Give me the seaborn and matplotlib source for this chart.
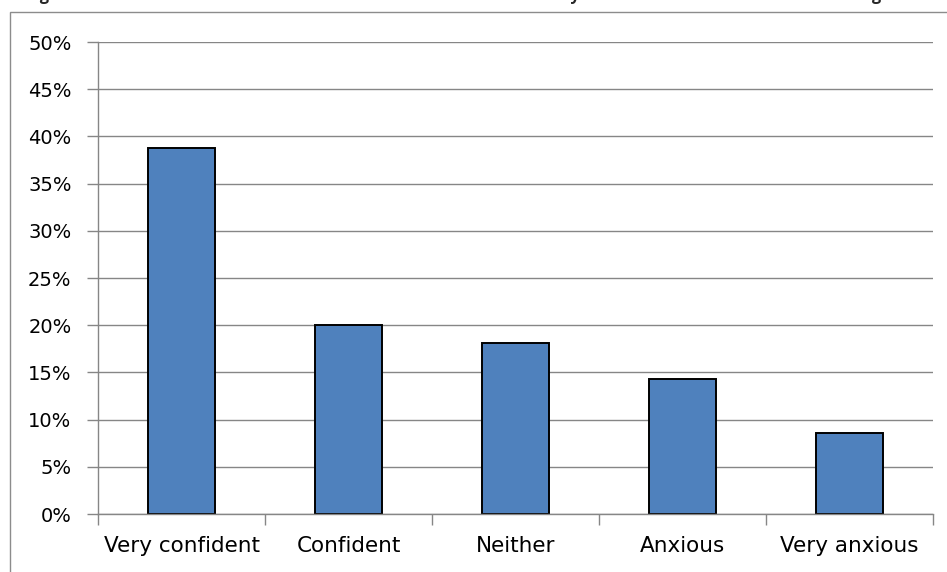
import matplotlib
matplotlib.use("Agg")
import matplotlib.pyplot as plt
import seaborn as sns
import pandas as pd
from matplotlib.ticker import PercentFormatter, MultipleLocator
from matplotlib.patches import Rectangle

# values (percent of respondents)
categories = ["Very confident", "Confident", "Neither", "Anxious", "Very anxious"]
shares = [38.8, 20.0, 18.1, 14.3, 8.6]
# the title is cut off by the top edge in the reference; only its descenders show
title_text = ("Figure 3: How confident or anxious were students about their "
              "ability to use the internet for their learning")

df = pd.DataFrame({"response": categories, "share": shares})

sns.set_theme(style="white")
plt.rcParams["font.family"] = ["DejaVu Sans"]

W, H = 947, 572
fig = plt.figure(figsize=(W / 100, H / 100), dpi=100)
ax = fig.add_axes([98 / W, 58 / H, 835 / W, 472 / H])

sns.barplot(data=df, x="response", y="share", color="#4F81BD", saturation=1,
            edgecolor="black", linewidth=1.4, width=0.4, ax=ax)

grey = "#868686"
ax.set_xlim(-0.5, len(categories) - 0.5)
ax.set_ylim(0, 50)
ax.yaxis.set_major_locator(MultipleLocator(5))
ax.yaxis.set_major_formatter(PercentFormatter(decimals=0))
ax.yaxis.grid(True, color=grey, linewidth=1)
ax.set_axisbelow(True)

# category boundary ticks like Excel
ax.set_xticks([i - 0.5 for i in range(len(categories) + 1)], minor=True)
ax.tick_params(axis="x", which="major", length=0, pad=16, labelsize=15.5, colors="black")
ax.tick_params(axis="x", which="minor", length=8, width=1, color=grey, bottom=True)
ax.tick_params(axis="y", which="major", length=8, width=1, color=grey, left=True,
               pad=11, labelsize=14, labelcolor="black")

for side in ["top", "right"]:
    ax.spines[side].set_visible(False)
for side in ["left", "bottom"]:
    ax.spines[side].set_color(grey)
    ax.spines[side].set_linewidth(1)

ax.set_xlabel("")
ax.set_ylabel("")

# outer chart frame (runs off the right and bottom edges)
fig.patches.append(Rectangle((10 / W, -0.1), 2, 1.1 - 12 / H, transform=fig.transFigure,
                             fill=False, edgecolor="#8c8c8c", linewidth=1))

fig.text(26 / W, 1 + 0.5 / H, title_text, fontsize=11.7, fontweight="bold",
         family=["Open Sans", "DejaVu Sans"], ha="left", va="baseline")

fig.savefig("out.png", dpi=100)
